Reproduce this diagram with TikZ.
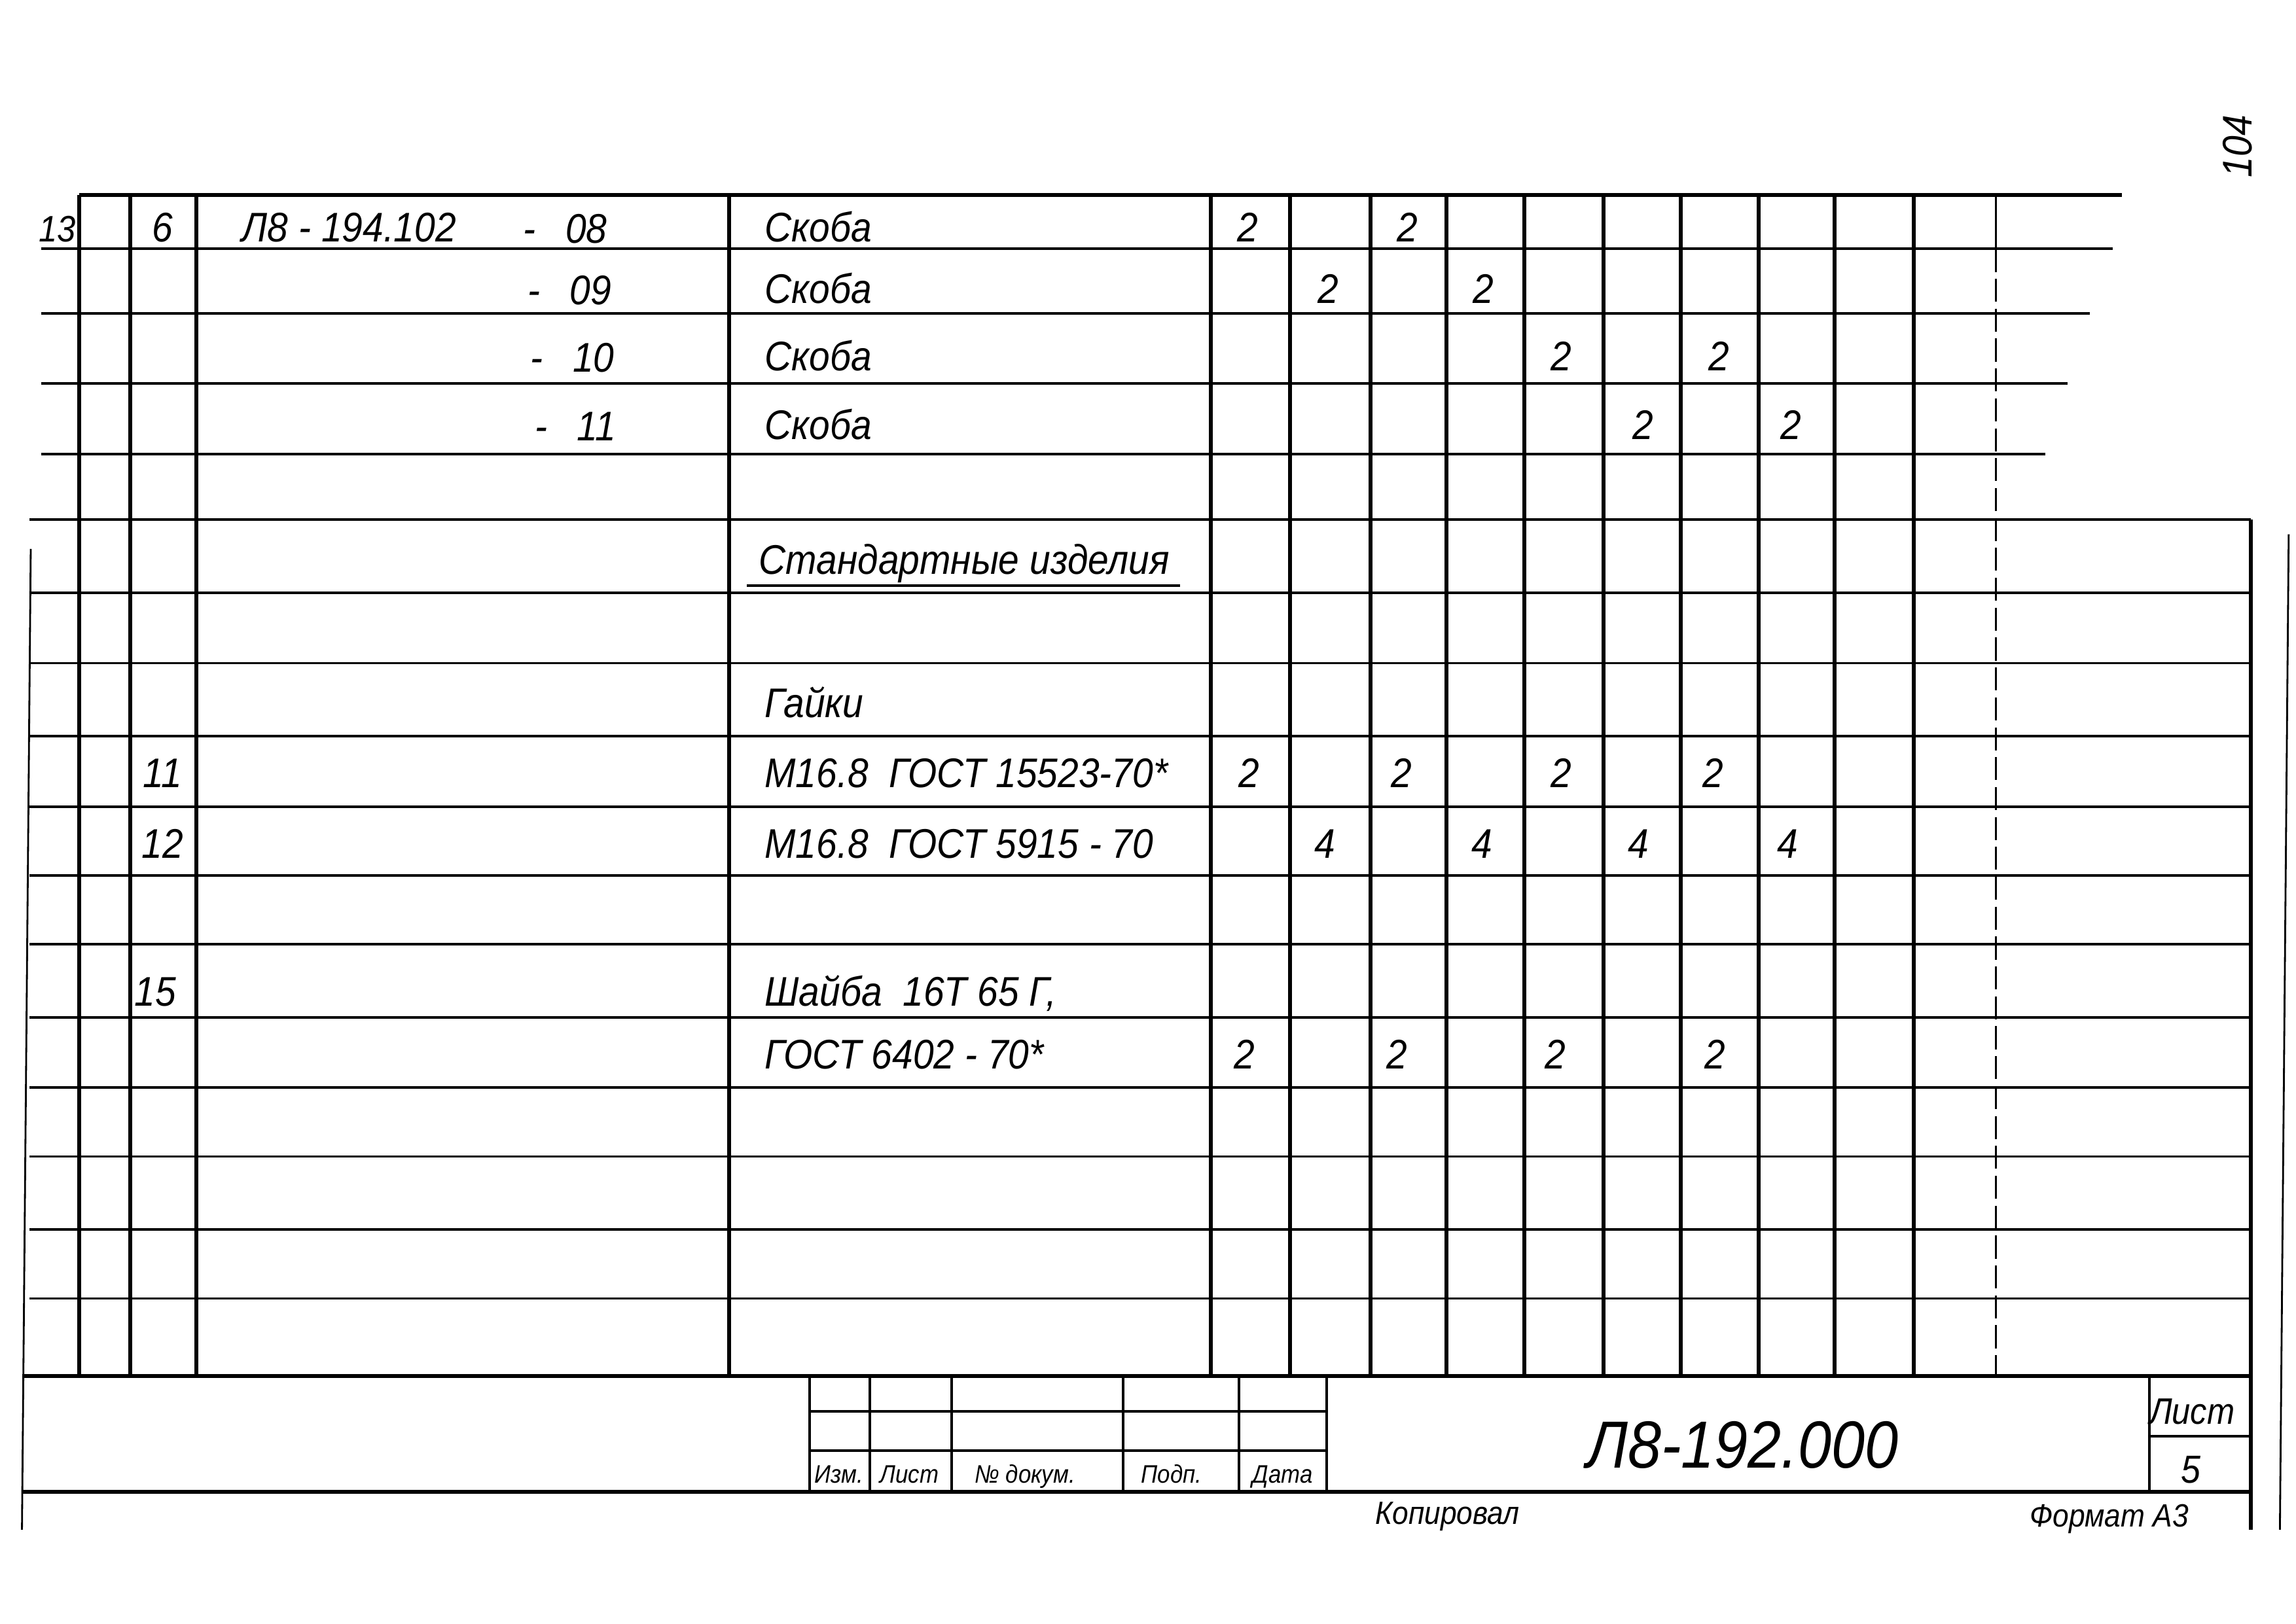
\documentclass[tikz,border=0pt]{standalone}
\usepackage{fontspec}
\newfontfamily\gost[FakeStretch=0.9]{Liberation Sans}
\begin{document}
\begin{tikzpicture}[x=0.022372cm,y=-0.022372cm,
  heavy/.style={line width=1.7pt},
  rule/.style={line width=1.1pt},
  hair/.style={line width=0.8pt},
  t/.style={font=\gost\itshape\fontsize{18}{20}\selectfont, inner sep=0pt, anchor=base west},
  q/.style={font=\gost\itshape\fontsize{18}{20}\selectfont, inner sep=0pt, anchor=base},
  lbl/.style={font=\gost\itshape\fontsize{11}{12}\selectfont, inner sep=0pt, anchor=base},
]
\fill[white] (0,0) rectangle (1568,1109);
\useasboundingbox (0,0) rectangle (1568,1109);

% ---------- horizontal rules of the table ----------
\draw[heavy] (54,133) -- (1449,133);
\foreach \y/\r in {170/1443, 214/1427, 262/1412, 310/1397}
  \draw[rule] (28,\y) -- (\r,\y);
\foreach \y in {355,405,453,503,551,598,645,695,743,790,840,887}
  \draw[rule] (20,\y) -- (1537,\y);
\draw[heavy] (15,940) -- (1537,940);
\draw[heavy] (15,1019) -- (1537,1019);

% ---------- vertical rules ----------
\foreach \x in {54,89,134,498,827,881,936,988,1041,1095,1148,1201,1253,1307}
  \draw[heavy] (\x,133) -- (\x,940);
\draw[hair] (1363,133) -- (1363,170);
\draw[hair, dash pattern=on 10pt off 3pt] (1363,170) -- (1363,940);
\draw[heavy] (1537,355) -- (1537,1045);
\draw[hair] (1563,365) -- (1557,1045);
\draw[hair] (21,375) -- (15,1045);

% ---------- title block ----------
\foreach \x in {553,594,650,767,846,906}
  \draw[rule] (\x,940) -- (\x,1019);
\draw[rule] (553,964) -- (906,964);
\draw[rule] (553,991) -- (906,991);
\draw[rule] (1468,940) -- (1468,1019);
\draw[rule] (1468,981) -- (1537,981);

% ---------- first rows ----------
\node[q, font=\gost\itshape\fontsize{16}{18}\selectfont] (n13) at (39,165) {13};
\node[q] (p6) at (111,165) {6};
\node[t] (des) at (165,165) {Л8 - 194.102};
\node[t] (d08) at (357,166) {-\hspace{13pt}08};
\node[t] (d09) at (360,208) {-\hspace{13pt}09};
\node[t] (d10) at (362,254) {-\hspace{13pt}10};
\node[t] (d11) at (365,301) {-\hspace{13pt}11};
\node[t] (s1) at (522,165) {Скоба};
\node[t] (s2) at (522,207) {Скоба};
\node[t] (s3) at (522,253) {Скоба};
\node[t] (s4) at (522,300) {Скоба};

\node[q] (q11) at (852,165) {2};
\node[q] (q12) at (961,165) {2};
\node[q] (q21) at (907,207) {2};
\node[q] (q22) at (1013,207) {2};
\node[q] (q31) at (1066,253) {2};
\node[q] (q32) at (1174,253) {2};
\node[q] (q41) at (1122,300) {2};
\node[q] (q42) at (1223,300) {2};

% ---------- standard items ----------
\node[t] (std) at (518,392) {Стандартные изделия};
\draw[rule] (510,400) -- (806,400);
\node[t] (gaiki) at (522,490) {Гайки};

\node[q] (p11) at (111,538) {11};
\node[t] (g1) at (522,538) {M16.8\ \ ГОСТ 15523-70*};
\node[q] (g1a) at (853,538) {2};
\node[q] (g1b) at (957,538) {2};
\node[q] (g1c) at (1066,538) {2};
\node[q] (g1d) at (1170,538) {2};

\node[q] (p12) at (111,586) {12};
\node[t] (g2) at (522,586) {M16.8\ \ ГОСТ 5915 - 70};
\node[q] (g2a) at (905,586) {4};
\node[q] (g2b) at (1012,586) {4};
\node[q] (g2c) at (1119,586) {4};
\node[q] (g2d) at (1221,586) {4};

\node[q] (p15) at (106,687) {15};
\node[t] (w1) at (522,687) {Шайба\ \ 16Т 65 Г,};
\node[t] (w2) at (522,730) {ГОСТ 6402 - 70*};
\node[q] (w2a) at (850,730) {2};
\node[q] (w2b) at (954,730) {2};
\node[q] (w2c) at (1062,730) {2};
\node[q] (w2d) at (1171,730) {2};

% ---------- title block texts ----------
\node[lbl] (izm) at (573,1013) {Изм.};
\node[lbl] (list) at (621,1013) {Лист};
\node[lbl] (ndoc) at (700,1013) {№ докум.};
\node[lbl] (podp) at (800,1013) {Подп.};
\node[lbl] (data) at (876,1013) {Дата};
\node[q, font=\gost\itshape\fontsize{29}{32}\selectfont] (code) at (1190,1003) {Л8-192.000};
\node[q, font=\gost\itshape\fontsize{16}{18}\selectfont] (sheet) at (1497,973) {Лист};
\node[q, font=\gost\itshape\fontsize{17}{18}\selectfont] (sheetno) at (1496,1013) {5};

\node[lbl, anchor=base west, font=\gost\itshape\fontsize{14}{15}\selectfont] (kop) at (939,1041) {Копировал};
\node[lbl, anchor=base west, font=\gost\itshape\fontsize{14}{15}\selectfont] (fmt) at (1386,1043) {Формат А3};

\node[q, rotate=90, font=\gost\itshape\fontsize{18}{20}\selectfont] (pg) at (1538,100) {104};
\end{tikzpicture}
\end{document}
